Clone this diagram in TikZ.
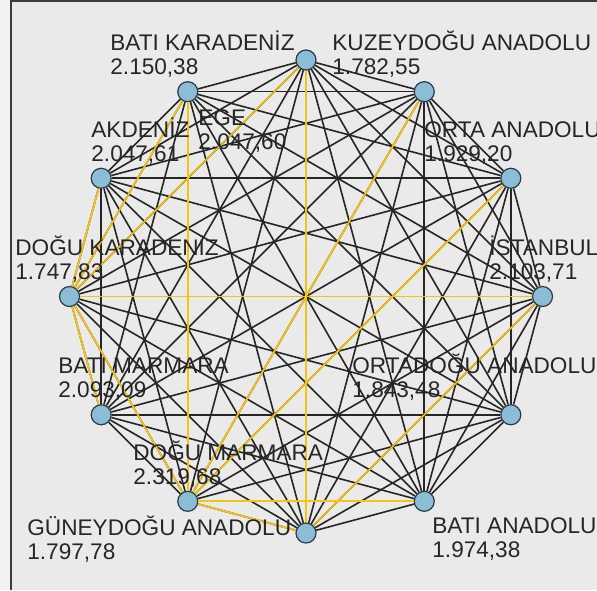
\documentclass[tikz,border=0pt]{standalone}
\usepackage{fontspec}
\setmainfont{Liberation Sans}
\definecolor{panel}{HTML}{EAEAEA}
\definecolor{outer}{HTML}{F1F1F1}
\definecolor{frameline}{HTML}{3C3C3C}
\definecolor{nodefill}{HTML}{8CBDD7}
\definecolor{nodeline}{HTML}{2A3A48}
\definecolor{tour}{HTML}{F3C414}

\begin{document}
\begin{tikzpicture}[x=0.5pt,y=-0.5pt,
  city/.style={circle,draw=nodeline,fill=nodefill,line width=0.6pt,minimum size=10pt,inner sep=0pt},
  road/.style={line width=0.8pt,black!85},
  best/.style={line width=0.85pt,tour},
  tag/.style={anchor=base west,align=left,inner sep=0pt,text=black!85,font=\fontsize{11.3}{11.75}\selectfont}]
  \useasboundingbox (0,0) rectangle (597,590);
  \fill[outer] (0,0) rectangle (597,590);
  \fill[panel] (11,1) rectangle (597,590);
  \draw[frameline,line width=1pt] (11,590) -- (11,1) -- (597,1);
  % twelve regions on a circle, clockwise from the top
  \foreach \i in {0,...,11}
    \node[city] (n\i) at ({306+236.5*cos(90-30*\i)},{296.5-236.5*sin(90-30*\i)}) {};
  % every pair is joined
  \foreach \i in {0,...,10}{
    \pgfmathtruncatemacro\nxt{\i+1}
    \foreach \j in {\nxt,...,11}
      \draw[road] (n\i) -- (n\j);
  }
  % highlighted edges
  \foreach \a/\b in {0/6,0/9,11/9,10/9,9/3,9/8,9/7,11/7,1/7,2/7,7/5,7/6,3/6}
    \draw[best] (n\a) -- (n\b);
  % labels (placed at the baseline of their second line)
  \node[tag] (bk)  at (110,74)  {BATI KARADENİZ\\2.150,38};
  \node[tag] (kda) at (332,74)  {KUZEYDOĞU ANADOLU\\1.782,55};
  \node[tag] (akd) at (91,161)  {AKDENİZ\\2.047,61};
  \node[tag] (ege) at (198,149) {EGE\\2.047,60};
  \node[tag] (oa)  at (424,161) {ORTA ANADOLU\\1.929,20};
  \node[tag] (dk)  at (15,279)  {DOĞU KARADENİZ\\1.747,83};
  \node[tag] (ist) at (489,279) {İSTANBUL\\2.103,71};
  \node[tag] (bm)  at (58,397)  {BATI MARMARA\\2.093,09};
  \node[tag] (oda) at (352,397) {ORTADOĞU ANADOLU\\1.843,48};
  \node[tag] (dm)  at (133,484) {DOĞU MARMARA\\2.319,68};
  \node[tag] (gda) at (27,559)  {GÜNEYDOĞU ANADOLU\\1.797,78};
  \node[tag] (ba)  at (432,557) {BATI ANADOLU\\1.974,38};
\end{tikzpicture}
\end{document}
